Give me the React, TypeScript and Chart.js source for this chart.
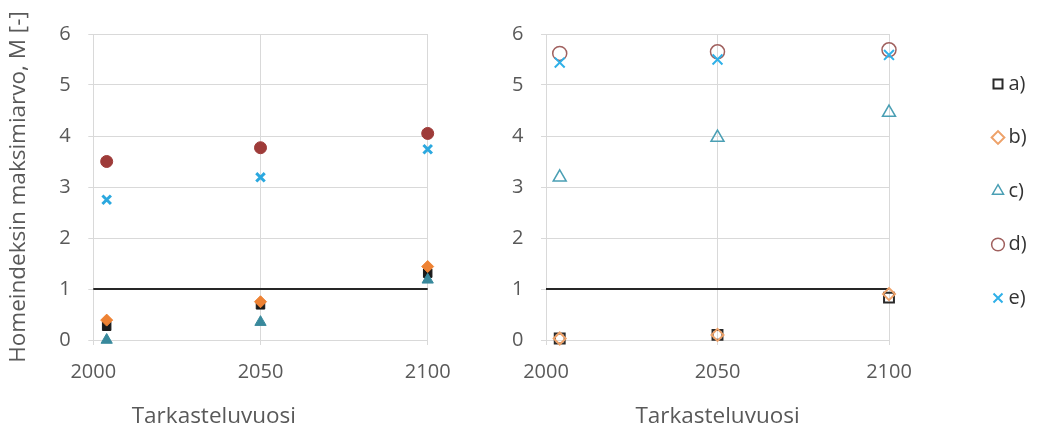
import React, { useEffect, useRef } from 'react';
import { Chart, registerables } from 'chart.js';

Chart.register(...registerables);

// ---- data ----
const YEARS = [2004, 2050, 2100];
const SERIES_LABELS = ['a)', 'b)', 'c)', 'd)', 'e)'];

const LEFT_A = [0.27, 0.69, 1.31];
const LEFT_B = [0.39, 0.75, 1.44];
const LEFT_C = [0.0, 0.35, 1.18];
const LEFT_D = [3.5, 3.77, 4.05];
const LEFT_E = [2.75, 3.19, 3.74];

const RIGHT_A = [0.03, 0.1, 0.83];
const RIGHT_B = [0.03, 0.1, 0.9];
const RIGHT_C = [3.19, 3.97, 4.46];
const RIGHT_D = [5.62, 5.65, 5.69];
const RIGHT_E = [5.44, 5.5, 5.59];

const THRESHOLD_YEARS = [2000, 2100];
const THRESHOLD_VALUES = [1, 1];

const X_TICKS = [2000, 2050, 2100];
const Y_TICKS = [0, 1, 2, 3, 4, 5, 6];

const Y_TITLE = 'Homeindeksin maksimiarvo, M [-]';
const X_TITLE = 'Tarkasteluvuosi';

// ---- styles ----
const FONT = "'Open Sans', sans-serif";
const TEXT = '#595959';
const GRID = '#d9d9d9';

const LEFT_STYLES = [
  { pointStyle: 'rect', radius: 6, bg: '#1a1a1a', border: '#1a1a1a', bw: 1 },
  { pointStyle: 'rectRot', radius: 6, bg: '#ee8233', border: '#ee8233', bw: 1 },
  { pointStyle: 'triangle', radius: 6.5, bg: '#38899c', border: '#38899c', bw: 1 },
  { pointStyle: 'circle', radius: 6, bg: '#9e3b39', border: '#9e3b39', bw: 1 },
  { pointStyle: 'crossRot', radius: 6, bg: '#2ba8df', border: '#2ba8df', bw: 3 },
];
const RIGHT_STYLES = [
  { pointStyle: 'rect', radius: 7, bg: 'rgba(0,0,0,0)', border: '#2a2a2a', bw: 2 },
  { pointStyle: 'rectRot', radius: 6, bg: 'rgba(0,0,0,0)', border: '#eea26a', bw: 2 },
  { pointStyle: 'triangle', radius: 7.5, bg: 'rgba(0,0,0,0)', border: '#4a9fb4', bw: 1.5 },
  { pointStyle: 'circle', radius: 7, bg: 'rgba(0,0,0,0)', border: '#a0605e', bw: 1.5 },
  { pointStyle: 'crossRot', radius: 7, bg: '#2fb0e8', border: '#2fb0e8', bw: 2 },
];

const toPoints = (xs: number[], ys: number[]) => xs.map((x, i) => ({ x, y: ys[i] }));

function buildDatasets(series: number[][], styles: any[]) {
  const ds: any[] = series.map((vals, i) => ({
    label: SERIES_LABELS[i],
    data: toPoints(YEARS, vals),
    showLine: false,
    clip: false,
    pointStyle: styles[i].pointStyle,
    pointRadius: styles[i].radius,
    pointBackgroundColor: styles[i].bg,
    pointBorderColor: styles[i].border,
    pointBorderWidth: styles[i].bw,
    backgroundColor: styles[i].bg,
    borderColor: styles[i].border,
    borderWidth: styles[i].bw,
    order: series.length - i,
  }));
  ds.push({
    label: 'threshold',
    data: toPoints(THRESHOLD_YEARS, THRESHOLD_VALUES),
    showLine: true,
    clip: false,
    borderColor: '#262626',
    borderWidth: 2,
    pointRadius: 0,
    order: 20,
  });
  return ds;
}

function scales(opts: { yWidth: number; xHeight: number; yTitle: boolean; xTitle: boolean }) {
  return {
    x: {
      type: 'linear',
      min: X_TICKS[0],
      max: X_TICKS[X_TICKS.length - 1],
      ticks: {
        stepSize: X_TICKS[1] - X_TICKS[0],
        color: TEXT,
        font: { size: 20, family: FONT },
        padding: 15,
        callback: (v: any) => String(v),
      },
      grid: { color: GRID, tickLength: 5, lineWidth: 1 },
      border: { color: GRID },
      title: {
        display: opts.xTitle,
        text: X_TITLE,
        color: TEXT,
        font: { size: 22.5, family: FONT, lineHeight: 1 },
        padding: { top: 0, bottom: 0 },
      },
      afterFit: (s: any) => { s.height = opts.xHeight; },
    },
    y: {
      type: 'linear',
      min: Y_TICKS[0],
      max: Y_TICKS[Y_TICKS.length - 1],
      ticks: {
        stepSize: Y_TICKS[1] - Y_TICKS[0],
        color: TEXT,
        font: { size: 20, family: FONT },
        padding: 17.5,
        callback: (v: any) => String(v),
      },
      grid: { color: GRID, tickLength: 5, lineWidth: 1 },
      border: { color: GRID },
      title: {
        display: opts.yTitle,
        text: Y_TITLE,
        color: TEXT,
        font: { size: 22.5, family: FONT, lineHeight: 1 },
        padding: { top: 7, bottom: 0 },
      },
      afterFit: (s: any) => { s.width = opts.yWidth; },
    },
  };
}

const legendPlacer = {
  id: 'legendPlacer',
  afterLayout(chart: any) {
    const lg = chart.legend;
    if (!lg) return;
    lg.left = 484;
    lg.right = 557;
    lg.top = 40.5;
    lg.bottom = 428;
    lg.width = lg.right - lg.left;
    lg.height = lg.bottom - lg.top;
  },
};

export default function App() {
  const leftRef = useRef<HTMLCanvasElement>(null);
  const rightRef = useRef<HTMLCanvasElement>(null);

  useEffect(() => {
    document.body.style.margin = '0';
    Chart.defaults.font.family = FONT;
    Chart.defaults.color = TEXT;

    const left = new Chart(leftRef.current as HTMLCanvasElement, {
      type: 'scatter',
      data: { datasets: buildDatasets([LEFT_A, LEFT_B, LEFT_C, LEFT_D, LEFT_E], LEFT_STYLES) },
      options: {
        animation: false,
        responsive: false,
        devicePixelRatio: 1,
        layout: { padding: { left: 0, top: 34, right: 496 - 427.7, bottom: 0 } },
        scales: scales({ yWidth: 93.3, xHeight: 428 - 340 - 22.5, yTitle: true, xTitle: false }) as any,
        plugins: {
          legend: { display: false },
          tooltip: { enabled: false },
          title: {
            display: true,
            text: X_TITLE,
            position: 'bottom',
            color: TEXT,
            font: { size: 22.5, family: FONT, weight: 'normal', lineHeight: 1 },
            padding: 0,
          },
        },
      } as any,
    });

    const right = new Chart(rightRef.current as HTMLCanvasElement, {
      type: 'scatter',
      data: { datasets: buildDatasets([RIGHT_A, RIGHT_B, RIGHT_C, RIGHT_D, RIGHT_E], RIGHT_STYLES) },
      options: {
        animation: false,
        responsive: false,
        devicePixelRatio: 1,
        layout: { padding: { left: 0, top: 34, right: 557 - 409, bottom: 0 } },
        scales: scales({ yWidth: 66, xHeight: 88, yTitle: false, xTitle: true }) as any,
        plugins: {
          tooltip: { enabled: false },
          legend: {
            display: true,
            position: 'chartArea',
            align: 'start',
            labels: {
              usePointStyle: true,
              boxWidth: 1,
              boxHeight: 9,
              padding: 33.5,
              color: '#333333',
              font: { size: 20, family: FONT },
              filter: (item: any) => item.datasetIndex < SERIES_LABELS.length,
              sort: (a: any, b: any) => a.datasetIndex - b.datasetIndex,
            },
          },
        },
      } as any,
      plugins: [legendPlacer],
    });

    return () => {
      left.destroy();
      right.destroy();
    };
  }, []);

  return (
    <div style={{ position: 'relative', width: 1037, height: 428, background: '#fff', overflow: 'hidden' }}>
      <canvas ref={leftRef} width={496} height={428} style={{ position: 'absolute', left: 0, top: 0, width: 496, height: 428 }} />
      <canvas ref={rightRef} width={557} height={428} style={{ position: 'absolute', left: 480, top: 0, width: 557, height: 428 }} />
    </div>
  );
}
